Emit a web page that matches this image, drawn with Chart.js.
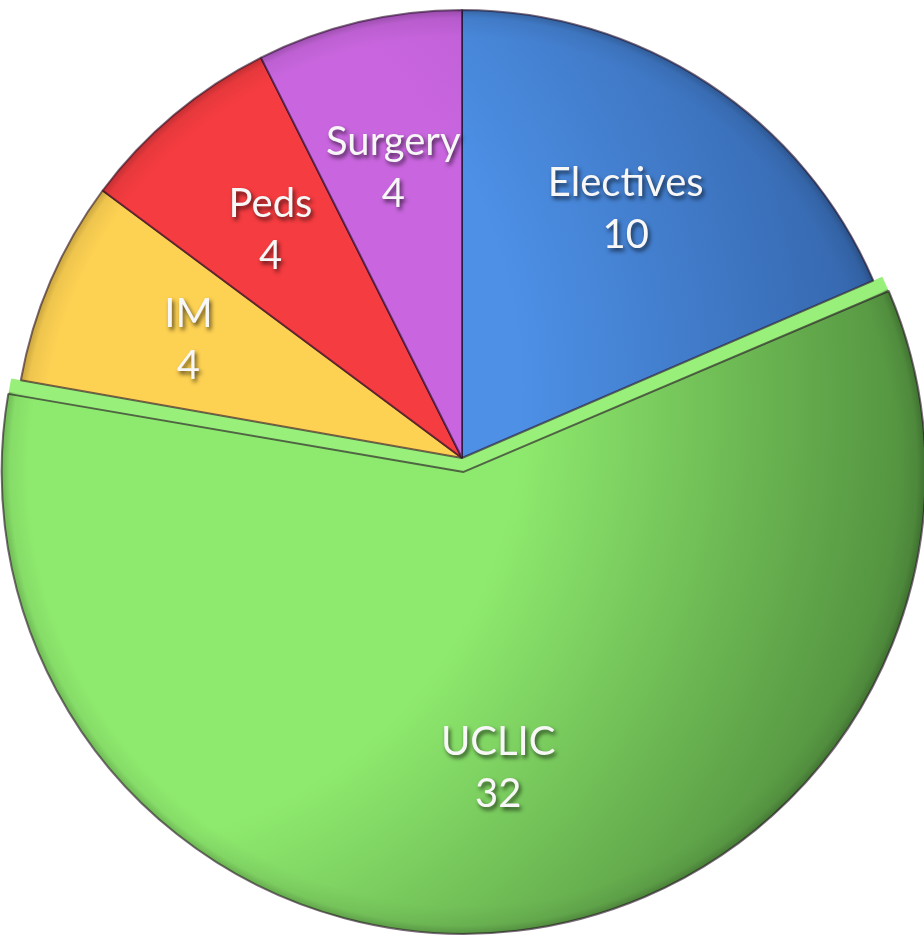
<!DOCTYPE html>
<html>
<head>
<meta charset="utf-8">
<script src="https://cdn.jsdelivr.net/npm/chart.js@4/dist/chart.umd.min.js"></script>
<style>
  html, body { margin: 0; padding: 0; background: #ffffff; }
  #wrap { width: 924px; height: 937px; position: relative; }
</style>
</head>
<body>
<div id="wrap"><canvas id="c"></canvas></div>
<script>
// Data
const categories = ["Electives", "UCLIC", "IM", "Peds", "Surgery"];
const values = [10, 32, 4, 4, 4];
const lightColors = ["#4d90e6", "#8eea6e", "#fdd152", "#f53c40", "#c966df"];
const darkColors  = ["#2f5c9e", "#4b8639", "#f3a03c", "#cf2b32", "#a449bd"];
const rimColors   = ["#2b4f86", "#98f07a", "#f6b347", "#d8343a", "#b052c8"];
const offsets = [0, 56, 0, 0, 0];

function sliceFill(context) {
  const chart = context.chart;
  const area = chart.chartArea;
  if (!area) return lightColors[context.dataIndex];
  const i = context.dataIndex;
  const cx = (area.left + area.right) / 2;
  const cy = (area.top + area.bottom) / 2;
  const r = Math.min(area.right - area.left, area.bottom - area.top) / 2;
  const gx = cx - 0.85 * r, gy = cy - 0.15 * r;
  const g = chart.ctx.createRadialGradient(gx, gy, 0, gx, gy, 1.95 * r);
  g.addColorStop(0, lightColors[i]);
  g.addColorStop(0.5, lightColors[i]);
  g.addColorStop(1, darkColors[i]);
  return g;
}

// geometry of an arc as Chart.js v4 actually draws it (translation + radius growth from offset)
function arcGeom(arc, i) {
  const p = arc.getProps(['x', 'y', 'startAngle', 'endAngle', 'outerRadius'], true);
  const mid = (p.startAngle + p.endAngle) / 2;
  const off = (offsets[i] || 0) / 4;
  const circ = p.endAngle - p.startAngle;
  const fix = 1 - Math.sin(Math.min(Math.PI, circ));
  return {
    p, mid,
    x: p.x + Math.cos(mid) * off,
    y: p.y + Math.sin(mid) * off,
    r: p.outerRadius + off * fix
  };
}

// 3D "side" of the offset slice (visible only in the gap) and a soft shaded rim
const shadePlugin = {
  id: 'shade',
  beforeDatasetsDraw(chart) {
    const ctx = chart.ctx;
    const meta = chart.getDatasetMeta(0);
    meta.data.forEach((arc, i) => {
      if (!offsets[i]) return;
      const a = arcGeom(arc, i);
      const p = a.p;
      ctx.save();
      ctx.beginPath();
      ctx.arc(a.x, a.y, a.r, 0, Math.PI * 2);
      ctx.clip();
      ctx.beginPath();
      ctx.moveTo(p.x, p.y);
      ctx.arc(p.x, p.y, a.r, p.startAngle, p.endAngle);
      ctx.closePath();
      ctx.fillStyle = rimColors[i];
      ctx.fill();
      ctx.restore();
    });
  },
  afterDatasetsDraw(chart) {
    const ctx = chart.ctx;
    const meta = chart.getDatasetMeta(0);
    meta.data.forEach((arc, i) => {
      const a = arcGeom(arc, i);
      const p = a.p;
      ctx.save();
      ctx.beginPath();
      ctx.moveTo(a.x, a.y);
      ctx.arc(a.x, a.y, a.r - 0.5, p.startAngle, p.endAngle);
      ctx.closePath();
      ctx.clip();
      const g = ctx.createRadialGradient(a.x, a.y, a.r * 0.94, a.x, a.y, a.r);
      g.addColorStop(0, 'rgba(0,0,0,0)');
      g.addColorStop(0.7, 'rgba(0,0,0,0.06)');
      g.addColorStop(1, 'rgba(0,0,0,0.22)');
      ctx.fillStyle = g;
      ctx.fillRect(a.x - a.r, a.y - a.r, a.r * 2, a.r * 2);
      ctx.restore();
    });
  }
};

const labelPlugin = {
  id: 'sliceLabels',
  afterDatasetsDraw(chart) {
    const ctx = chart.ctx;
    const meta = chart.getDatasetMeta(0);
    ctx.save();
    ctx.font = '40px Lato, "Open Sans", sans-serif';
    ctx.fillStyle = '#f7f7f7';
    ctx.textAlign = 'center';
    ctx.textBaseline = 'middle';
    ctx.shadowColor = 'rgba(0,0,0,0.65)';
    ctx.shadowBlur = 4;
    ctx.shadowOffsetX = 2;
    ctx.shadowOffsetY = 3;
    meta.data.forEach((arc, i) => {
      const a = arcGeom(arc, i);
      const rr = a.p.outerRadius * 0.665;
      const x = a.x + Math.cos(a.mid) * rr;
      const y = a.y + Math.sin(a.mid) * rr;
      ctx.fillText(categories[i], x, y - 26);
      ctx.fillText(String(values[i]), x, y + 26);
    });
    ctx.restore();
  }
};

new Chart(document.getElementById('c'), {
  type: 'pie',
  data: {
    labels: categories,
    datasets: [{
      data: values,
      backgroundColor: sliceFill,
      borderColor: 'rgba(35,10,35,0.6)',
      borderWidth: 2,
      offset: offsets,
      hoverOffset: 0,
      radius: 448
    }]
  },
  options: {
    responsive: true,
    maintainAspectRatio: false,
    animation: false,
    layout: { padding: { left: 0, right: 0, top: 0, bottom: 21 } },
    plugins: {
      legend: { display: false },
      tooltip: { enabled: false }
    },
    events: []
  },
  plugins: [shadePlugin, labelPlugin]
});
</script>
</body>
</html>
